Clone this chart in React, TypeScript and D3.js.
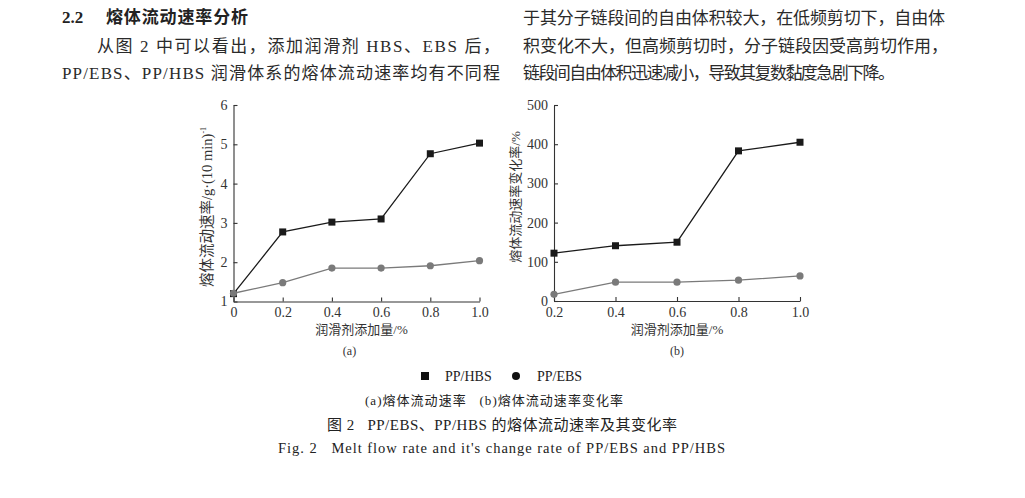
import React, { useEffect, useRef } from 'react';
import * as d3 from 'd3';

// (a) melt flow rate, g/(10 min)
const xA = [0, 0.2, 0.4, 0.6, 0.8, 1.0];
const hbsRate = [1.2, 2.77, 3.02, 3.1, 4.76, 5.03];
const ebsRate = [1.21, 1.48, 1.85, 1.85, 1.91, 2.04];
const yTicksA = [1, 2, 3, 4, 5, 6];
const xTicksA = [0, 0.2, 0.4, 0.6, 0.8, 1.0];

// (b) change rate of melt flow rate, %
const xB = [0.2, 0.4, 0.6, 0.8, 1.0];
const hbsChange = [122, 141, 150, 383, 405];
const ebsChange = [17, 48, 48, 53, 64];
const yTicksB = [0, 100, 200, 300, 400, 500];
const xTicksB = [0.2, 0.4, 0.6, 0.8, 1.0];

const FONT = "'Liberation Serif', 'Noto Sans CJK SC', serif";
const HBS_COLOR = '#1a1a1a';
const EBS_COLOR = '#7a7a7a';

const textLines = [
  { t: '从图 2 中可以看出，添加润滑剂 HBS、EBS 后，', x: 97, y: 52, w: 403 },
  { t: 'PP/EBS、PP/HBS 润滑体系的熔体流动速率均有不同程', x: 62, y: 79, w: 438 },
  { t: '于其分子链段间的自由体积较大，在低频剪切下，自由体', x: 523, y: 24, w: 422 },
  { t: '积变化不大，但高频剪切时，分子链段因受高剪切作用，', x: 523, y: 52, w: 425 },
  { t: '链段间自由体积迅速减小，导致其复数黏度急剧下降。', x: 523, y: 79, w: 372 },
];

interface PanelCfg {
  xs: number[];
  hbs: number[];
  ebs: number[];
  xDomain: [number, number];
  yDomain: [number, number];
  xRange: [number, number];
  yRange: [number, number];
  xTicks: number[];
  yTicks: number[];
  yLabel: string;
  yLabelX: number;
  yLabelY: number;
  tag: string;
}

const App: React.FC = () => {
  const svgRef = useRef<SVGSVGElement>(null);

  useEffect(() => {
    if (!svgRef.current) return;
    const svg = d3.select(svgRef.current);
    svg.selectAll('*').remove();

    // heading + body text
    svg
      .append('text')
      .attr('x', 62)
      .attr('y', 23)
      .attr('font-family', FONT)
      .attr('font-size', 17)
      .attr('font-weight', 'bold')
      .attr('fill', '#222')
      .text('2.2');
    svg
      .append('text')
      .attr('x', 106)
      .attr('y', 23)
      .attr('font-family', FONT)
      .attr('font-size', 17)
      .attr('font-weight', 'bold')
      .attr('fill', '#222')
      .attr('textLength', 142)
      .attr('lengthAdjust', 'spacing')
      .text('熔体流动速率分析');

    textLines.forEach((l) => {
      svg
        .append('text')
        .attr('x', l.x)
        .attr('y', l.y)
        .attr('font-family', FONT)
        .attr('font-size', 17)
        .attr('fill', '#2a2a2a')
        .attr('textLength', l.w)
        .attr('lengthAdjust', 'spacing')
        .text(l.t);
    });

    const panels: PanelCfg[] = [
      {
        xs: xA,
        hbs: hbsRate,
        ebs: ebsRate,
        xDomain: [0, 1],
        yDomain: [1, 6],
        xRange: [233.5, 479.5],
        yRange: [301.5, 105],
        xTicks: xTicksA,
        yTicks: yTicksA,
        yLabel: '',
        yLabelX: 212,
        yLabelY: 207,
        tag: '(a)',
      },
      {
        xs: xB,
        hbs: hbsChange,
        ebs: ebsChange,
        xDomain: [0.2, 1],
        yDomain: [0, 500],
        xRange: [554, 800],
        yRange: [301, 105],
        xTicks: xTicksB,
        yTicks: yTicksB,
        yLabel: '熔体流动速率变化率/%',
        yLabelX: 520,
        yLabelY: 197,
        tag: '(b)',
      },
    ];

    panels.forEach((p, idx) => {
      const x = d3.scaleLinear().domain(p.xDomain).range(p.xRange);
      const y = d3.scaleLinear().domain(p.yDomain).range(p.yRange);
      const g = svg.append('g');

      // axes, ticks pointing inward
      const yAxis = g
        .append('g')
        .attr('transform', `translate(${p.xRange[0]},0)`)
        .call(
          d3
            .axisLeft(y)
            .tickValues(p.yTicks)
            .tickFormat((d) => `${d}`)
            .tickSizeInner(-4)
            .tickSizeOuter(0)
            .tickPadding(6)
        );
      const xAxis = g
        .append('g')
        .attr('transform', `translate(0,${p.yRange[0]})`)
        .call(
          d3
            .axisBottom(x)
            .tickValues(p.xTicks)
            .tickFormat((d) => ((d as number) === 0 ? '0' : d3.format('.1f')(d as number)))
            .tickSizeInner(-4)
            .tickSizeOuter(0)
            .tickPadding(6)
        );
      [yAxis, xAxis].forEach((a) => {
        a.selectAll('path, line').attr('stroke', '#333').attr('stroke-width', 1.1);
        a.selectAll('text')
          .attr('font-family', FONT)
          .attr('font-size', 14)
          .attr('fill', '#333');
      });

      // lines + markers
      const series = [
        { vals: p.hbs, color: HBS_COLOR, square: true },
        { vals: p.ebs, color: EBS_COLOR, square: false },
      ];
      series.forEach((s) => {
        const pts: [number, number][] = p.xs.map((xv, i) => [x(xv), y(s.vals[i])]);
        g.append('path')
          .attr('d', d3.line()(pts))
          .attr('fill', 'none')
          .attr('stroke', s.color)
          .attr('stroke-width', 1.3);
        if (s.square) {
          g.selectAll(null)
            .data(pts)
            .join('rect')
            .attr('x', (d) => d[0] - 3.5)
            .attr('y', (d) => d[1] - 3.5)
            .attr('width', 7)
            .attr('height', 7)
            .attr('fill', s.color);
        } else {
          g.selectAll(null)
            .data(pts)
            .join('circle')
            .attr('cx', (d) => d[0])
            .attr('cy', (d) => d[1])
            .attr('r', 3.6)
            .attr('fill', s.color);
        }
      });

      // y label
      const yl = g
        .append('text')
        .attr('transform', `translate(${p.yLabelX},${p.yLabelY}) rotate(-90)`)
        .attr('text-anchor', 'middle')
        .attr('font-family', FONT)
        .attr('font-size', idx === 0 ? 14.5 : 13)
        .attr('fill', '#333');
      if (idx === 0) {
        yl.append('tspan').text('熔体流动速率/g·(10 min)');
        yl.append('tspan').attr('font-size', 8).attr('dy', -6).text('-1');
      } else {
        yl.text(p.yLabel);
      }

      const cx = (p.xRange[0] + p.xRange[1]) / 2 + (idx === 0 ? 5 : 0);
      g.append('text')
        .attr('x', cx)
        .attr('y', 334)
        .attr('text-anchor', 'middle')
        .attr('font-family', FONT)
        .attr('font-size', 13)
        .attr('fill', '#333')
        .text('润滑剂添加量/%');
      g.append('text')
        .attr('x', cx - (idx === 0 ? 12 : 0))
        .attr('y', 355)
        .attr('text-anchor', 'middle')
        .attr('font-family', FONT)
        .attr('font-size', 12)
        .attr('fill', '#333')
        .text(p.tag);
    });

    // legend
    const lg = svg.append('g');
    lg.append('rect').attr('x', 421).attr('y', 372).attr('width', 8).attr('height', 8).attr('fill', '#111');
    lg.append('text')
      .attr('x', 445)
      .attr('y', 381)
      .attr('font-family', FONT)
      .attr('font-size', 14)
      .attr('fill', '#222')
      .text('PP/HBS');
    lg.append('circle').attr('cx', 516).attr('cy', 376).attr('r', 4).attr('fill', '#111');
    lg.append('text')
      .attr('x', 537)
      .attr('y', 381)
      .attr('font-family', FONT)
      .attr('font-size', 14)
      .attr('fill', '#222')
      .text('PP/EBS');

    // captions
    const caps = [
      { t: '(a)熔体流动速率   (b)熔体流动速率变化率', y: 405, size: 13, x: 365, w: 258 },
      { t: '图 2   PP/EBS、PP/HBS 的熔体流动速率及其变化率', y: 430, size: 15, x: 327, w: 350 },
      { t: "Fig. 2   Melt flow rate and it's change rate of PP/EBS and PP/HBS", y: 453, size: 14.5, x: 278, w: 447 },
    ];
    caps.forEach((c) => {
      svg
        .append('text')
        .attr('x', c.x)
        .attr('y', c.y)
        .attr('font-family', FONT)
        .attr('font-size', c.size)
        .attr('fill', '#222')
        .attr('textLength', c.w)
        .attr('lengthAdjust', 'spacing')
        .style('white-space', 'pre')
        .text(c.t);
    });
  }, []);

  return (
    <div style={{ position: 'absolute', left: 0, top: 0 }}>
      <svg ref={svgRef} width={1025} height={498} style={{ display: 'block', background: '#fff' }} />
    </div>
  );
};

export default App;
